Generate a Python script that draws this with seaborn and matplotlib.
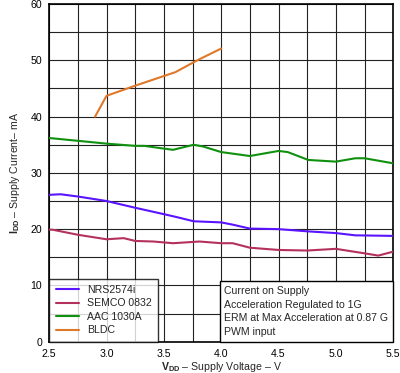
import pandas as pd
import matplotlib
matplotlib.use("Agg")
import matplotlib.pyplot as plt
from matplotlib.offsetbox import AnchoredText
import seaborn as sns

# values
nrs_x = [2.5, 2.6, 2.75, 3.0, 3.25, 3.47, 3.6, 3.76, 4.0, 4.1, 4.25, 4.5, 4.76, 5.0, 5.17, 5.5]
nrs_y = [26.1, 26.2, 25.8, 25.0, 23.8, 22.8, 22.2, 21.4, 21.2, 20.8, 20.1, 20.0, 19.6, 19.3, 18.9, 18.8]

semco_x = [2.5, 2.53, 2.75, 3.0, 3.15, 3.25, 3.41, 3.58, 3.81, 4.0, 4.1, 4.25, 4.5, 4.75, 5.0, 5.25, 5.37, 5.5]
semco_y = [19.9, 19.9, 19.0, 18.2, 18.4, 17.9, 17.8, 17.5, 17.8, 17.5, 17.5, 16.7, 16.3, 16.2, 16.5, 15.7, 15.3, 16.0]

aac_x = [2.5, 2.75, 3.0, 3.25, 3.33, 3.47, 3.58, 3.76, 3.84, 4.0, 4.25, 4.5, 4.58, 4.76, 5.0, 5.17, 5.25, 5.5]
aac_y = [36.2, 35.7, 35.2, 34.8, 34.8, 34.4, 34.1, 35.0, 34.7, 33.7, 33.0, 33.9, 33.7, 32.3, 32.0, 32.6, 32.6, 31.7]

bldc_x = [2.9, 3.0, 3.25, 3.6, 3.8, 4.0]
bldc_y = [40.0, 43.7, 45.5, 47.9, 50.1, 52.1]

names = ["NRS2574i", "SEMCO 0832", "AAC 1030A", "BLDC"]
colors = ["#5a14ff", "#b4305e", "#10900f", "#e0782a"]

note = "Current on Supply\nAcceleration Regulated to 1G\nERM at Max Acceleration at 0.87 G\nPWM input"

df = pd.concat([
    pd.DataFrame({"v": nrs_x, "i": nrs_y, "part": names[0]}),
    pd.DataFrame({"v": semco_x, "i": semco_y, "part": names[1]}),
    pd.DataFrame({"v": aac_x, "i": aac_y, "part": names[2]}),
    pd.DataFrame({"v": bldc_x, "i": bldc_y, "part": names[3]}),
], ignore_index=True)

sns.set_theme(style="white")
plt.rcParams["font.family"] = ["Liberation Sans", "DejaVu Sans"]
plt.rcParams["mathtext.fontset"] = "custom"
plt.rcParams["mathtext.rm"] = "Liberation Sans"
plt.rcParams["mathtext.bf"] = "Liberation Sans:bold"

fs = 7.6

fig = plt.figure(figsize=(4.0, 3.73), dpi=100)
ax = fig.add_axes([0.123, 0.084, 0.86, 0.905])

sns.lineplot(data=df, x="v", y="i", hue="part", hue_order=names,
             palette=colors, linewidth=1.5, sort=False, estimator=None,
             ax=ax, zorder=3)

ax.set_xlim(2.5, 5.5)
ax.set_ylim(0, 60)
ax.set_xticks([2.5, 3.0, 3.5, 4.0, 4.5, 5.0, 5.5])
ax.set_xticks([2.75, 3.25, 3.75, 4.25, 4.75, 5.25], minor=True)
ax.set_yticks([0, 10, 20, 30, 40, 50, 60])
ax.set_yticks([5, 15, 25, 35, 45, 55], minor=True)
ax.grid(True, which="both", color="#222222", linewidth=0.8)
ax.tick_params(axis="both", which="both", length=0, labelsize=fs, colors="black")
ax.tick_params(axis="x", pad=5)
ax.tick_params(axis="y", pad=5)
for s in ax.spines.values():
    s.set_color("black")
    s.set_linewidth(1.2)

ax.set_xlabel(r"$\mathbf{V_{DD}}$ – Supply Voltage – V", fontsize=fs, labelpad=1)
ax.set_ylabel(r"$\mathbf{I_{DD}}$ – Supply Current– mA", fontsize=fs, labelpad=6)

leg = ax.legend(loc="lower left", fontsize=fs, frameon=True, fancybox=False,
                borderaxespad=0, handlelength=2.2, labelspacing=0.33,
                borderpad=0.6, handletextpad=0.8)
leg.get_frame().set_edgecolor("black")
leg.get_frame().set_linewidth(1.0)
leg.set_zorder(5)

box = AnchoredText(note, loc="lower right", frameon=True, borderpad=0, pad=0.45,
                   prop=dict(size=fs, linespacing=1.45))
box.patch.set_boxstyle("square,pad=0")
box.patch.set_edgecolor("black")
box.patch.set_linewidth(1.0)
box.set_zorder(5)
ax.add_artist(box)

fig.savefig("out.png", dpi=100)
